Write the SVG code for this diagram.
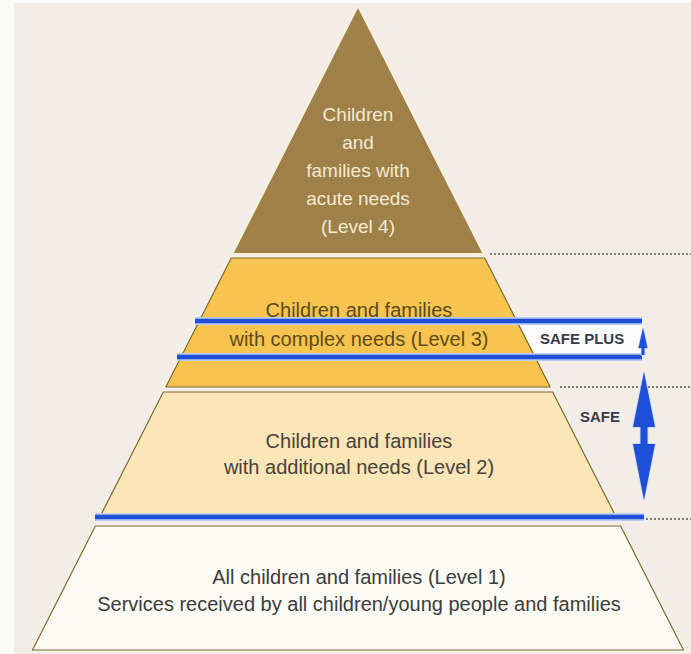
<svg xmlns="http://www.w3.org/2000/svg" width="691" height="654" viewBox="0 0 691 654">
  <style>
    .lbl { font-family: "Liberation Sans", Arial, sans-serif; font-size: 20px; text-anchor: middle; }
    .l4 { fill: #f4ead2; font-size: 19px; }
    .l3 { fill: #5e4b1c; }
    .l2 { fill: #46423c; }
    .l1 { fill: #3c3c3c; }
    .tag { font-family: "Liberation Sans", Arial, sans-serif; font-weight: bold; font-size: 15px; fill: #383a48; }
    .halo { fill: none; stroke: #fbf3dc; stroke-width: 3.5; stroke-linejoin: round; }
    .edge { stroke: #76683a; stroke-width: 1.2; stroke-linejoin: round; }
    .band { stroke: #b9ccf4; stroke-width: 8; }
    .blue { stroke: #1f4fd6; stroke-width: 4.5; }
    .dots { stroke: #555; stroke-width: 1.5; stroke-dasharray: 2 2; }
    .arrow { fill: #1f4fd6; stroke: #c3d4fa; stroke-width: 1.5; paint-order: stroke; }
  </style>

  <!-- page background -->
  <rect x="0" y="0" width="691" height="654" fill="#fbfbfa"/>
  <rect x="14" y="3" width="677" height="651" fill="#f2ede7"/>

  <!-- white strip behind the SAFE PLUS label -->
  <polygon points="516.7,321 642,321 642,357 534.9,357" fill="#fdfdff"/>

  <!-- Level 4: apex triangle -->
  <g id="level4">
    <polygon class="halo" points="358,8 482.2,253 233.8,253"/>
    <polygon points="358,8 482.2,253 233.8,253" fill="#9e8048"/>
    <text class="lbl l4" x="358" y="121">Children</text>
    <text class="lbl l4" x="358" y="149">and</text>
    <text class="lbl l4" x="358" y="177">families with</text>
    <text class="lbl l4" x="358" y="205">acute needs</text>
    <text class="lbl l4" x="358" y="233">(Level 4)</text>
  </g>

  <!-- Level 3: complex needs band -->
  <g id="level3">
    <polygon class="halo" points="231.25,258 484.75,258 550.2,387 165.8,387"/>
    <polygon class="edge" points="231.25,258 484.75,258 550.2,387 165.8,387" fill="#f7c44f"/>
    <text class="lbl l3" x="359" y="317">Children and families</text>
    <text class="lbl l3" x="359" y="346">with complex needs (Level 3)</text>
  </g>

  <!-- Level 2: additional needs band -->
  <g id="level2">
    <polygon class="halo" points="163.3,392 552.7,392 615.6,516 100.4,516"/>
    <polygon class="edge" points="163.3,392 552.7,392 615.6,516 100.4,516" fill="#fce5b6"/>
    <text class="lbl l2" x="359" y="448">Children and families</text>
    <text class="lbl l2" x="359" y="474">with additional needs (Level 2)</text>
  </g>

  <!-- Level 1: universal base -->
  <g id="level1">
    <polygon class="halo" points="95.4,526 620.6,526 683.5,650 32.5,650"/>
    <polygon class="edge" points="95.4,526 620.6,526 683.5,650 32.5,650" fill="#fdfbf5"/>
    <text class="lbl l1" x="359" y="584">All children and families (Level 1)</text>
    <text class="lbl l1" x="359" y="611">Services received by all children/young people and families</text>
  </g>

  <!-- service tier labels -->
  <g id="safe-plus">
    <text class="tag" x="540" y="344">SAFE PLUS</text>
  </g>
  <g id="safe">
    <text class="tag" x="580" y="422">SAFE</text>
  </g>

  <!-- boundary lines and range arrows -->
  <g id="connectors">
    <line class="dots" x1="490" y1="254" x2="691" y2="254"/>
    <line class="dots" x1="560" y1="387" x2="691" y2="387"/>
    <line class="dots" x1="646" y1="519" x2="691" y2="519"/>

    <line class="band" x1="195" y1="321" x2="642" y2="321"/>
    <line class="band" x1="177" y1="357" x2="642" y2="357"/>
    <line class="band" x1="95" y1="517" x2="644" y2="517"/>
    <line class="blue" x1="195" y1="321" x2="642" y2="321"/>
    <line class="blue" x1="177" y1="357" x2="642" y2="357"/>
    <line class="blue" x1="95" y1="517" x2="644" y2="517"/>

    <!-- SAFE PLUS up arrow -->
    <polygon class="arrow" points="643,328 647.5,348 644.5,348 644.5,355 641.5,355 641.5,348 638.5,348"/>
    <!-- SAFE double arrow -->
    <polygon class="arrow" points="644,372 655,427 647.5,427 647.5,444 655,444 644,500 633,444 640.5,444 640.5,427 633,427"/>
  </g>
</svg>
